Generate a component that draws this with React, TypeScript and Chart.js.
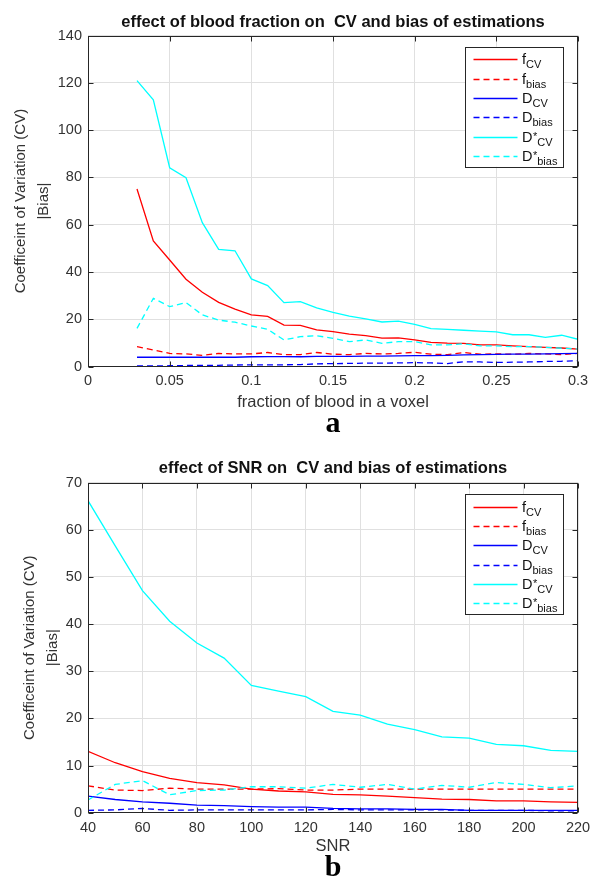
import React, { useEffect, useRef } from 'react';
import { Chart, registerables } from 'chart.js';
Chart.register(...registerables);

const FONT = '"Liberation Sans", Arial, Helvetica, sans-serif';
Chart.defaults.font.family = FONT;

// ---------- Panel a: fraction of blood ----------
const FRACTIONS = [0.03, 0.04, 0.05, 0.06, 0.07, 0.08, 0.09, 0.10, 0.11, 0.12, 0.13, 0.14, 0.15, 0.16,
  0.17, 0.18, 0.19, 0.20, 0.21, 0.22, 0.23, 0.24, 0.25, 0.26, 0.27, 0.28, 0.29, 0.30];
const A_F_CV = [75.1, 53.2, 45.1, 37.0, 31.5, 27.2, 24.3, 21.9, 21.3, 17.6, 17.5, 15.6, 14.8, 13.8,
  13.1, 12.1, 12.2, 11.3, 10.3, 10.0, 9.9, 9.2, 9.2, 8.8, 8.5, 8.2, 7.9, 7.4];
const A_F_BIAS = [8.5, 7.1, 5.6, 5.4, 4.8, 5.6, 5.4, 5.4, 6.0, 5.1, 5.1, 6.0, 5.3, 5.1,
  5.6, 5.4, 5.6, 6.1, 5.3, 5.1, 6.0, 5.3, 5.4, 5.3, 5.6, 5.4, 5.1, 5.6];
const A_D_CV = [4.0, 4.0, 4.0, 4.0, 4.0, 4.0, 4.0, 4.2, 4.3, 4.3, 4.2, 4.4, 4.4, 4.4,
  4.5, 4.5, 4.6, 4.7, 4.7, 4.8, 5.0, 5.1, 5.2, 5.3, 5.3, 5.4, 5.5, 5.6];
const A_D_BIAS = [0.3, 0.3, 0.4, 0.5, 0.5, 0.6, 0.7, 0.8, 0.8, 0.8, 0.9, 1.2, 1.3, 1.4,
  1.5, 1.5, 1.6, 1.7, 1.6, 1.3, 2.1, 2.0, 1.8, 1.9, 2.0, 2.2, 2.3, 2.6];
const A_DS_CV = [120.9, 112.8, 84.1, 79.9, 60.9, 49.6, 49.0, 37.1, 34.3, 27.1, 27.5, 24.9, 23.0, 21.4,
  20.2, 18.9, 19.3, 17.9, 16.1, 15.8, 15.4, 15.0, 14.7, 13.5, 13.5, 12.4, 13.3, 11.6];
const A_DS_BIAS = [16.2, 28.9, 25.4, 27.1, 21.9, 19.7, 18.8, 17.2, 15.8, 11.3, 12.7, 13.1, 12.0, 10.6,
  11.3, 9.9, 10.6, 10.6, 9.2, 9.2, 9.7, 8.8, 8.8, 8.5, 8.5, 8.2, 7.8, 7.5];

// ---------- Panel b: SNR ----------
const SNR = [40, 50, 60, 70, 80, 90, 100, 110, 120, 130, 140, 150, 160, 170, 180, 190, 200, 210, 220];
const B_F_CV = [13.0, 10.6, 8.7, 7.3, 6.4, 5.9, 5.0, 4.6, 4.4, 3.9, 3.8, 3.5, 3.2, 2.9, 2.8, 2.5, 2.5, 2.3, 2.2];
const B_F_BIAS = [5.7, 4.8, 4.7, 5.2, 5.0, 5.0, 5.0, 5.1, 4.8, 4.8, 5.0, 5.0, 5.0, 5.0, 5.0, 5.0, 5.0, 5.0, 5.0];
const B_D_CV = [3.5, 2.8, 2.3, 2.0, 1.6, 1.5, 1.3, 1.2, 1.2, 0.9, 0.8, 0.8, 0.7, 0.7, 0.5, 0.5, 0.5, 0.5, 0.5];
const B_D_BIAS = [0.5, 0.6, 0.9, 0.5, 0.6, 0.6, 0.6, 0.6, 0.6, 0.7, 0.6, 0.6, 0.6, 0.6, 0.5, 0.5, 0.5, 0.4, 0.4];
const B_DS_CV = [66.2, 56.6, 47.1, 40.6, 36.0, 32.8, 27.0, 25.8, 24.6, 21.5, 20.7, 18.8, 17.6, 16.1, 15.8, 14.5, 14.2, 13.2, 13.0];
const B_DS_BIAS = [2.7, 6.0, 6.8, 3.8, 4.7, 4.8, 5.5, 5.5, 5.2, 6.0, 5.4, 6.0, 5.0, 5.8, 5.4, 6.4, 6.0, 5.3, 5.7];

// ---------- labels ----------
const LEGEND_PARTS = [
  { base: 'f', sup: '', sub: 'CV' },
  { base: 'f', sup: '', sub: 'bias' },
  { base: 'D', sup: '', sub: 'CV' },
  { base: 'D', sup: '', sub: 'bias' },
  { base: 'D', sup: '*', sub: 'CV' },
  { base: 'D', sup: '*', sub: 'bias' },
];
const SERIES_NAMES = ['f_CV', 'f_bias', 'D_CV', 'D_bias', 'D*_CV', 'D*_bias'];
const Y_TITLE = ['Coefficeint of Variation (CV)', '|Bias|'];

const STYLES = [
  { color: '#ff0000', dash: [] },
  { color: '#ff0000', dash: [6, 4] },
  { color: '#0000ff', dash: [] },
  { color: '#0000ff', dash: [6, 4] },
  { color: '#00ffff', dash: [] },
  { color: '#00ffff', dash: [6, 4] },
];

const framePlugin = {
  id: 'matlabFrame',
  afterDraw(chart: any, _args: any, opts: any) {
    const { ctx, chartArea: a } = chart;
    const xs = chart.scales.x;
    const ys = chart.scales.y;
    ctx.save();
    const L = Math.round(a.left) + 0.5;
    const R = Math.round(a.right) - 0.5;
    const T = Math.round(a.top) + 0.5;
    const B = Math.round(a.bottom) - 0.5;
    ctx.strokeStyle = '#262626';
    ctx.lineWidth = 1;
    ctx.setLineDash([]);
    ctx.strokeRect(L, T, R - L, B - T);
    ctx.beginPath();
    xs.ticks.forEach((t: any) => {
      const px = Math.round(xs.getPixelForValue(t.value)) + 0.5;
      ctx.moveTo(px, B); ctx.lineTo(px, B - 5);
      ctx.moveTo(px, T); ctx.lineTo(px, T + 5);
    });
    ys.ticks.forEach((t: any) => {
      const py = Math.round(ys.getPixelForValue(t.value)) + 0.5;
      ctx.moveTo(L, py); ctx.lineTo(L + 5, py);
      ctx.moveTo(R, py); ctx.lineTo(R - 5, py);
    });
    ctx.stroke();

    // legend box
    const parts = opts.parts || [];
    const boxRight = a.right - 15;
    const boxW = 98;
    const boxLeft = boxRight - boxW;
    const boxTop = a.top + 11.3;
    const boxH = 120;
    ctx.fillStyle = '#ffffff';
    ctx.fillRect(boxLeft, boxTop, boxW, boxH);
    ctx.strokeStyle = '#262626';
    ctx.lineWidth = 1;
    ctx.strokeRect(Math.round(boxLeft) + 0.5, Math.round(boxTop) + 0.5, boxW, boxH);
    chart.data.datasets.forEach((ds: any, i: number) => {
      const p = parts[i];
      if (!p) return;
      const y = Math.round(boxTop + 12.6 + i * 19.3) + 0.5;
      ctx.beginPath();
      ctx.strokeStyle = ds.borderColor;
      ctx.lineWidth = 1.4;
      ctx.setLineDash(ds.borderDash || []);
      ctx.moveTo(boxLeft + 8.5, y);
      ctx.lineTo(boxLeft + 52.5, y);
      ctx.stroke();
      ctx.setLineDash([]);
      ctx.fillStyle = '#111111';
      ctx.textBaseline = 'alphabetic';
      ctx.textAlign = 'left';
      let x = boxLeft + 57;
      ctx.font = `14.5px ${FONT}`;
      ctx.fillText(p.base, x, y + 4.5);
      x += ctx.measureText(p.base).width;
      ctx.font = `11px ${FONT}`;
      if (p.sup) {
        ctx.fillText(p.sup, x + 0.5, y + 2);
        x += ctx.measureText(p.sup).width + 0.5;
      }
      ctx.fillText(p.sub, x, y + 8.5);
    });
    ctx.restore();
  },
};

type PanelProps = {
  xs: number[];
  series: number[][];
  xMin: number; xMax: number; xStep: number;
  yMax: number; yStep: number;
  title: string; xTitle: string;
  titlePad: { top: number; bottom: number };
  xFitHeight: number; xTickPad: number; xTitlePadBottom: number;
  yTitlePadTop: number;
};

function Panel(props: PanelProps) {
  const ref = useRef<HTMLCanvasElement>(null);
  useEffect(() => {
    if (!ref.current) return;
    const fmt = (v: number) => String(Number(Number(v).toFixed(4)));
    const chart = new Chart(ref.current, {
      type: 'line',
      data: {
        datasets: props.series.map((s, i) => ({
          label: SERIES_NAMES[i],
          data: props.xs.map((x, j) => ({ x, y: s[j] })),
          borderColor: STYLES[i].color,
          borderDash: STYLES[i].dash,
          borderWidth: 1.3,
          pointRadius: 0,
          tension: 0,
          fill: false,
          order: 5 - i,
        })),
      },
      options: {
        responsive: false,
        animation: false,
        layout: { padding: { left: 0, right: 12, top: 0, bottom: 0 } },
        plugins: {
          legend: { display: false },
          tooltip: { enabled: false },
          title: {
            display: true,
            text: props.title,
            fullSize: false,
            color: '#111111',
            font: { size: 16.5, weight: 'bold', family: FONT, lineHeight: 1.2 },
            padding: props.titlePad,
          },
          matlabFrame: { parts: LEGEND_PARTS },
        } as any,
        scales: {
          x: {
            type: 'linear',
            min: props.xMin,
            max: props.xMax,
            ticks: {
              stepSize: props.xStep,
              padding: props.xTickPad,
              color: '#333333',
              font: { size: 14.5 },
              maxRotation: 0,
              autoSkip: false,
              callback: (v: any) => fmt(v),
            },
            grid: { color: '#e0e0e0', lineWidth: 1, drawTicks: false },
            border: { display: false },
            title: {
              display: true,
              text: props.xTitle,
              color: '#333333',
              font: { size: 16.5, lineHeight: 1.2 },
              padding: { top: 0, bottom: props.xTitlePadBottom },
            },
            afterFit: (s: any) => {
              s.height = props.xFitHeight;
              s.paddingLeft = 0;
              s.paddingRight = 0;
            },
          },
          y: {
            type: 'linear',
            min: 0,
            max: props.yMax,
            ticks: {
              stepSize: props.yStep,
              padding: 6,
              color: '#333333',
              font: { size: 14.5 },
              callback: (v: any) => fmt(v),
            },
            grid: { color: '#e0e0e0', lineWidth: 1, drawTicks: false },
            border: { display: false },
            title: {
              display: true,
              text: Y_TITLE,
              color: '#333333',
              font: { size: 15, lineHeight: '22.5px' },
              padding: { top: props.yTitlePadTop, bottom: 0 },
            },
            afterFit: (s: any) => {
              s.width = 88;
              s.paddingTop = 0;
              s.paddingBottom = 0;
            },
          },
        } as any,
      },
      plugins: [framePlugin],
    } as any);
    return () => chart.destroy();
  }, []);
  return <canvas ref={ref} width={590} height={439} style={{ display: 'block', width: 590, height: 439 }} />;
}

const letterStyle: React.CSSProperties = {
  position: 'absolute',
  left: 88,
  width: 490,
  textAlign: 'center',
  font: 'bold 30px "Liberation Serif", "Times New Roman", serif',
  lineHeight: '30px',
  color: '#000',
};

export default function App() {
  return (
    <div style={{ position: 'absolute', left: 0, top: 0, width: 590, height: 878, background: '#fff', overflow: 'hidden' }}>
      <div style={{ position: 'absolute', left: 0, top: 0 }}>
        <Panel
          xs={FRACTIONS}
          series={[A_F_CV, A_F_BIAS, A_D_CV, A_D_BIAS, A_DS_CV, A_DS_BIAS]}
          xMin={0} xMax={0.3} xStep={0.05}
          yMax={140} yStep={20}
          title="effect of blood fraction on  CV and bias of estimations"
          xTitle="fraction of blood in a voxel"
          titlePad={{ top: 12.8, bottom: 2.9 }}
          xFitHeight={72.3} xTickPad={6} xTitlePadBottom={27}
          yTitlePadTop={9.75}
        />
      </div>
      <div style={{ position: 'absolute', left: 0, top: 439 }}>
        <Panel
          xs={SNR}
          series={[B_F_CV, B_F_BIAS, B_D_CV, B_D_BIAS, B_DS_CV, B_DS_BIAS]}
          xMin={40} xMax={220} xStep={20}
          yMax={70} yStep={10}
          title="effect of SNR on  CV and bias of estimations"
          xTitle="SNR"
          titlePad={{ top: 19.1, bottom: 4.8 }}
          xFitHeight={65.3} xTickPad={7} xTitlePadBottom={22}
          yTitlePadTop={18.75}
        />
      </div>
      <div style={{ ...letterStyle, top: 407 }}>a</div>
      <div style={{ ...letterStyle, top: 851 }}>b</div>
    </div>
  );
}
